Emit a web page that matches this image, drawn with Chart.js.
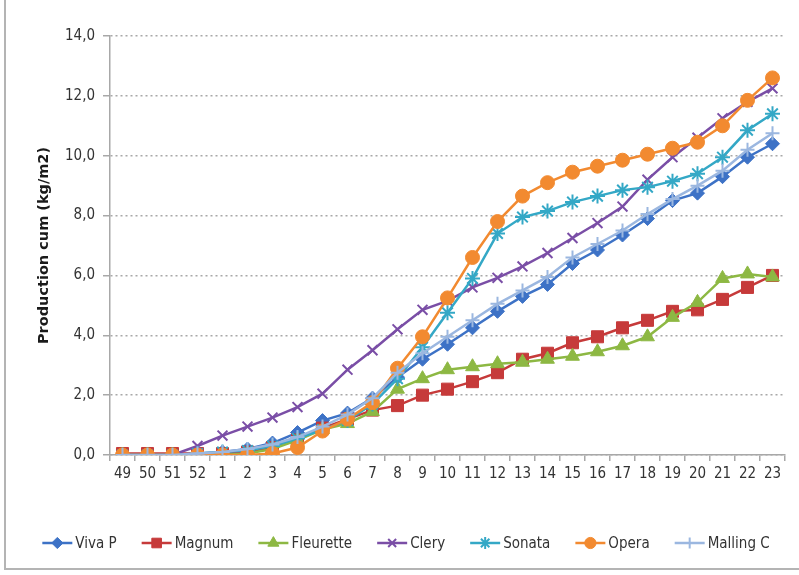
<!DOCTYPE html>
<html><head><meta charset="utf-8">
<script src="https://cdn.jsdelivr.net/npm/chart.js@4"></script>
<style>
html,body{margin:0;padding:0;background:#fff;}
#wrap{position:relative;width:799px;height:575px;overflow:hidden;background:#fff;}
#frame{position:absolute;left:4px;top:-4px;width:800px;height:574px;border-left:2px solid #b4b4b4;border-bottom:2px solid #b4b4b4;box-sizing:border-box;}
canvas{position:absolute;left:0;top:0;}
</style></head><body>
<div id="wrap"><div id="frame"></div><canvas id="c" width="799" height="575"></canvas></div>
<script>
const weeks = ['49','50','51','52','1','2','3','4','5','6','7','8','9','10','11','12','13','14','15','16','17','18','19','20','21','22','23'];
const vivaP    = [0,0,0,0.05,0.1,0.2,0.4,0.75,1.15,1.4,1.9,2.6,3.2,3.7,4.25,4.8,5.3,5.7,6.4,6.85,7.35,7.9,8.5,8.75,9.3,9.95,10.4];
const magnum   = [0.05,0.05,0.05,0.05,0.05,0.1,0.25,0.5,0.9,1.2,1.5,1.65,2.0,2.2,2.45,2.75,3.2,3.4,3.75,3.95,4.25,4.5,4.8,4.85,5.2,5.6,6.0];
const fleurette= [0,0,0,0,0,0.05,0.2,0.5,0.85,1.05,1.45,2.2,2.55,2.85,2.95,3.05,3.1,3.2,3.3,3.45,3.65,3.95,4.6,5.1,5.9,6.05,5.95];
const clery    = [0,0,0,0.3,0.65,0.95,1.25,1.6,2.05,2.85,3.5,4.2,4.85,5.15,5.6,5.92,6.3,6.75,7.25,7.75,8.3,9.2,9.95,10.6,11.25,11.8,12.25];
const sonata   = [0,0,0,0.05,0.1,0.15,0.3,0.55,0.85,1.15,1.7,2.55,3.6,4.75,5.9,7.4,7.95,8.15,8.45,8.65,8.85,8.95,9.15,9.4,9.95,10.85,11.4];
const opera    = [0,0,0,0,0,0,0.05,0.25,0.8,1.2,1.75,2.9,3.95,5.25,6.6,7.8,8.65,9.1,9.45,9.65,9.85,10.05,10.25,10.45,11.0,11.85,12.6];
const mallingC = [0,0,0,0.05,0.1,0.2,0.35,0.6,0.95,1.35,1.9,2.75,3.4,3.95,4.5,5.05,5.5,5.95,6.6,7.05,7.5,8.05,8.55,9.0,9.5,10.2,10.75];
const seriesNames = ['Viva P','Magnum','Fleurette','Clery','Sonata','Opera','Malling C'];
const seriesData = [vivaP, magnum, fleurette, clery, sonata, opera, mallingC];
const seriesColors = ['#3d72c6','#c63a3a','#8db843','#7a4ea6','#34a8c6','#f28a30','#9bb7e0'];
const seriesMarkers = ['rectRot','rect','triangle','crossRot','star','circle','cross'];
const markerRadius = [7,8.5,8,7,7.5,7,7];
const yMin = 0, yMax = 14, yStep = 2;
const yTitle = 'Production cum (kg/m2)';

const FONT = "'Liberation Sans Narrow','DejaVu Sans Condensed','Roboto Condensed',sans-serif";

const datasets = seriesData.map((d, i) => ({
  label: seriesNames[i],
  data: d,
  borderColor: seriesColors[i],
  backgroundColor: seriesColors[i],
  pointBackgroundColor: seriesColors[i],
  pointBorderColor: seriesColors[i],
  pointStyle: seriesMarkers[i],
  pointRadius: markerRadius[i],
  pointBorderWidth: (seriesMarkers[i]==='crossRot'||seriesMarkers[i]==='cross'||seriesMarkers[i]==='star') ? 2 : 1,
  borderWidth: 2.5,
  tension: 0,
  order: seriesNames.length - i
}));

const legendPlugin = {
  id: 'customLegend',
  afterDraw(chart) {
    const ctx = chart.ctx;
    ctx.save();
    ctx.font = '15px ' + FONT;
    ctx.textBaseline = 'middle';
    const lineLen = 30, gapText = 3, gapItem = 25;
    const widths = seriesNames.map(n => lineLen + gapText + ctx.measureText(n).width);
    const total = widths.reduce((a,b)=>a+b,0) + gapItem*(seriesNames.length-1);
    let x = 406 - total/2;
    const y = 543;
    seriesNames.forEach((n, i) => {
      ctx.strokeStyle = seriesColors[i];
      ctx.lineWidth = 2.5;
      ctx.beginPath(); ctx.moveTo(x, y); ctx.lineTo(x+lineLen, y); ctx.stroke();
      ctx.fillStyle = seriesColors[i];
      ctx.strokeStyle = seriesColors[i];
      const opts = {pointStyle: seriesMarkers[i], radius: markerRadius[i]*0.8, rotation: 0, borderWidth: datasets[i].pointBorderWidth};
      if (Chart.helpers && Chart.helpers.drawPoint) {
        ctx.lineWidth = opts.borderWidth;
        Chart.helpers.drawPoint(ctx, opts, x + lineLen/2, y);
      }
      ctx.fillStyle = '#333';
      ctx.textAlign = 'left';
      ctx.fillText(n, x + lineLen + gapText, y + 1);
      x += widths[i] + gapItem;
    });
    ctx.restore();
  }
};

new Chart(document.getElementById('c'), {
  type: 'line',
  data: { labels: weeks, datasets },
  options: {
    responsive: false,
    animation: false,
    devicePixelRatio: 1,
    layout: { padding: { left: 0, right: 14, top: 36, bottom: 0 } },
    plugins: { legend: { display: false }, tooltip: { enabled: false } },
    scales: {
      x: {
        type: 'category',
        offset: true,
        afterFit(s) { s.height = 120; },
        grid: { drawOnChartArea: false, drawTicks: true, tickLength: 6, color: '#a8a8a8', lineWidth: 1.5, offset: true },
        border: { display: true, color: '#a8a8a8', width: 1.5 },
        ticks: { color: '#333', font: { family: FONT, size: 15 }, padding: 4, maxRotation: 0, autoSkip: false }
      },
      y: {
        min: yMin, max: yMax,
        afterFit(s) { s.width = 110; },
        ticks: {
          stepSize: yStep, color: '#333', font: { family: FONT, size: 15 }, padding: 8,
          callback: v => v.toFixed(1).replace('.', ',')
        },
        grid: { color: '#a8a8a8', lineWidth: 1.5, tickLength: 7, tickColor: '#a8a8a8', tickWidth: 1.5, tickBorderDash: [] },
        border: { display: true, color: '#a8a8a8', width: 1.5, dash: [2, 3] },
        title: { display: true, text: yTitle, color: '#1a1a1a', font: { family: "'DejaVu Sans','Liberation Sans',sans-serif", size: 14.5, weight: 'bold' }, padding: { top: 36, bottom: 0 } }
      }
    }
  },
  plugins: [legendPlugin]
});
</script>
</body></html>
